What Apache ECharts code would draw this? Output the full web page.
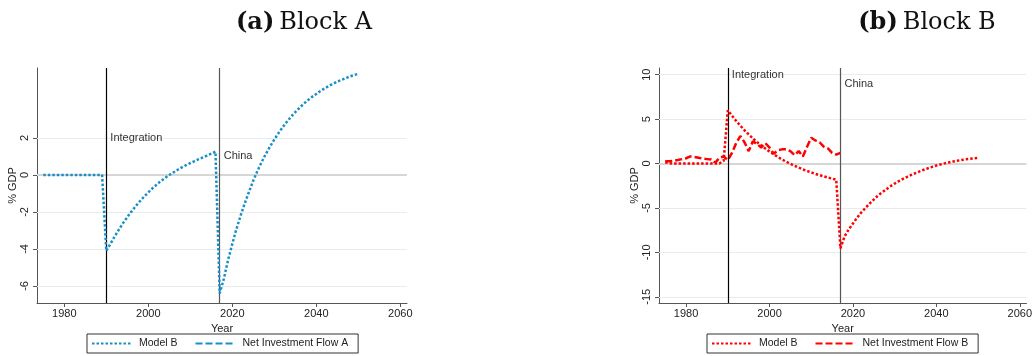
<!DOCTYPE html>
<html>
<head>
<meta charset="utf-8">
<script src="https://cdn.jsdelivr.net/npm/echarts@6/dist/echarts.min.js"></script>
<style>
html,body{margin:0;padding:0;background:#fff;}
#chart{width:1035px;height:356px;}
</style>
</head>
<body>
<div id="chart"></div>
<script>
// ---- data ----
const years = [1975,1976,1977,1978,1979,1980,1981,1982,1983,1984,1985,1986,1987,1988,1989,
  1990,1991,1992,1993,1994,1995,1996,1997,1998,1999,2000,2001,2002,2003,2004,2005,2006,2007,2008,2009,
  2010,2011,2012,2013,2014,2015,2016,2017,2018,2019,2020,2021,2022,2023,2024,2025,2026,2027,2028,2029,
  2030,2031,2032,2033,2034,2035,2036,2037,2038,2039,2040,2041,2042,2043,2044,2045,2046,2047,2048,2049,2050];

// Block A: Model B
const modelB_A = [0,0,0,0,0,0,0,0,0,0,0,0,0,0,0,
  -4.10,-3.72,-3.32,-2.95,-2.60,-2.28,-1.97,-1.69,-1.42,-1.17,-0.94,-0.72,-0.52,-0.33,-0.16,0.00,0.14,0.28,0.41,0.53,0.64,0.75,0.85,0.95,1.05,1.15,1.26,
  -6.40,-5.60,-4.60,-3.72,-2.91,-2.19,-1.51,-0.90,-0.30,0.22,0.70,1.14,1.54,1.91,2.26,2.58,2.87,3.15,3.40,3.63,3.84,4.04,4.22,4.38,4.54,4.68,4.81,4.93,5.04,5.14,5.23,5.32,5.40,5.47];
// Block A: Net Investment Flow A (no visible values)
const flowA = [];

// Block B: Model B
const modelB_B = [0.15,0.05,0,0,0,0,0,0,0,0,0,0,0,0.02,0.3,
  6.00,5.38,4.80,4.26,3.75,3.28,2.84,2.43,2.04,1.69,1.35,1.04,0.74,0.46,0.21,-0.03,-0.25,-0.46,-0.66,-0.83,-1.00,-1.16,-1.31,-1.44,-1.58,-1.70,-1.81,
  -9.55,-8.20,-7.40,-6.75,-6.10,-5.50,-5.00,-4.50,-4.05,-3.60,-3.25,-2.90,-2.55,-2.25,-1.98,-1.72,-1.50,-1.27,-1.07,-0.88,-0.70,-0.53,-0.37,-0.22,-0.10,0.02,0.13,0.23,0.32,0.40,0.47,0.53,0.58,0.63];
// Block B: Net Investment Flow B (1975-2017)
const flowB = [0.25,0.25,0.3,0.4,0.5,0.6,0.8,0.75,0.65,0.55,0.5,0.45,0.1,0.65,0.8,
  0.4,1.2,2.3,3.1,2.4,1.4,2.5,2.2,1.8,2.3,1.8,1.1,1.5,1.6,1.6,1.4,0.95,1.4,0.8,1.9,2.9,2.6,2.4,1.9,1.7,1.2,1.0,1.2];

const xTicks = [1980,2000,2020,2040,2060];
const yTicksA = [-6,-4,-2,0,2];
const yTicksB = [-15,-10,-5,0,5,10];
const events = [{year:1990, name:'Integration'}, {year:2017, name:'China'}];
const titles = ['(a)|Block A', '(b)|Block B'];
const legendA = ['Model B', 'Net Investment Flow A'];
const legendB = ['Model B', 'Net Investment Flow B'];

// ---- chart ----
const pairs = (vals) => vals.map((v, i) => [years[i], v]);
const BLUE = '#1a8fc6', RED = '#ff0000';
const FONT = 'Liberation Sans, Arial, Helvetica, sans-serif';
const ZW = '\u200b';

function xAxis(gi){
  return {
    type:'value', gridIndex:gi, min:1973.5, max:2061.6,
    name:'Year', nameLocation:'middle', nameGap:16,
    nameTextStyle:{fontSize:11, color:'#222', fontFamily:FONT},
    axisLine:{show:true, onZero:false, lineStyle:{color:'#555', width:1}},
    axisTick:{show:true, length:4, customValues:xTicks, lineStyle:{color:'#555'}},
    axisLabel:{customValues:xTicks, fontSize:11, color:'#222', margin:5, fontFamily:FONT, formatter:(v)=>String(v)},
    splitLine:{show:false}
  };
}
function yAxis(gi, mn, mx, ticks){
  return {
    type:'value', gridIndex:gi, min:mn, max:mx,
    name:'% GDP', nameLocation:'middle', nameGap:19,
    nameTextStyle:{fontSize:11, color:'#222', fontFamily:FONT},
    axisLine:{show:true, onZero:false, lineStyle:{color:'#555', width:1}},
    axisTick:{show:true, length:4, customValues:ticks, lineStyle:{color:'#555'}},
    axisLabel:{customValues:ticks, rotate:90, fontSize:11, color:'#222', margin:7, fontFamily:FONT, formatter:(v)=>String(v)},
    splitLine:{show:false}
  };
}
function backSeries(gi, ticks, labelY){
  return {
    type:'line', xAxisIndex:gi, yAxisIndex:gi, data:[], z:1, silent:true,
    markLine:{
      silent:true, symbol:'none', animation:false,
      label:{show:false},
      data: ticks.map(t => ({yAxis:t, lineStyle:{color: t===0 ? '#d6d6d6' : '#e4eef0', width: t===0 ? 2 : 1, type:'solid'}}))
        .concat(events.map((e, k) => ({xAxis:e.year, lineStyle:{color: k===0 ? '#000' : '#555', width:1.2, type:'solid'}})))
    },
    markPoint:{
      silent:true, symbol:'circle', symbolSize:0.1, animation:false,
      itemStyle:{color:'rgba(0,0,0,0)'},
      label:{show:true, position:'right', distance:4, formatter:(p)=>p.name, fontSize:11, color:'#333', fontFamily:FONT},
      data: events.map((e, k) => ({name:e.name, coord:[e.year, labelY[k]]}))
    }
  };
}
function dataSeries(name, gi, vals, color, dash, z){
  return {
    name:name, type:'line', xAxisIndex:gi, yAxisIndex:gi, data:pairs(vals),
    symbol:'none', z:z, animation:false,
    lineStyle:{color:color, width:2.5, type:dash, cap:'butt'},
    itemStyle:{color:color}
  };
}
function titleOf(s, cx){
  const [a, b] = s.split('|');
  return {
    text:'{b|' + a + '} {r|' + b + '}', left:cx, top:6, textAlign:'center',
    textStyle:{rich:{
      b:{fontFamily:'DejaVu Serif, serif', fontWeight:'bold', fontSize:24, color:'#111'},
      r:{fontFamily:'DejaVu Serif, serif', fontWeight:'normal', fontSize:24, color:'#111'}
    }}
  };
}
function legendOf(names, suffix, left){
  return {
    left:left, top:334, orient:'horizontal',
    data: names.map(n => n + suffix),
    formatter:(n)=> n.split(ZW).join(''),
    itemWidth:39, itemHeight:12, itemGap:17,
    padding:[4,10,4,4],
    borderColor:'#333', borderWidth:1, borderRadius:0,
    itemStyle:{opacity:0},
    textStyle:{fontSize:10.5, color:'#222', fontFamily:FONT, padding:[0,0,0,3]},
    selectedMode:false
  };
}

const option = {
  backgroundColor:'#fff',
  animation:false,
  title:[titleOf(titles[0], 299), titleOf(titles[1], 922)],
  legend:[legendOf(legendA, ZW, 87), legendOf(legendB, ZW+ZW, 707)],
  grid:[{left:37, top:68, width:370, height:235}, {left:659, top:68, width:369, height:235}],
  xAxis:[xAxis(0), xAxis(1)],
  yAxis:[yAxis(0, -6.92, 5.78, yTicksA), yAxis(1, -15.7, 10.76, yTicksB)],
  series:[
    backSeries(0, yTicksA, [2, 1]),
    dataSeries(legendA[0] + ZW, 0, modelB_A, BLUE, [2.5, 2], 5),
    dataSeries(legendA[1] + ZW, 0, flowA, BLUE, [7, 3], 4),
    backSeries(1, yTicksB, [10, 9]),
    dataSeries(legendB[0] + ZW + ZW, 1, modelB_B, RED, [2.5, 2], 5),
    dataSeries(legendB[1] + ZW + ZW, 1, flowB, RED, [7, 3], 4)
  ]
};
const chart = echarts.init(document.getElementById('chart'), null, {renderer:'canvas'});
chart.setOption(option);
</script>
</body>
</html>
